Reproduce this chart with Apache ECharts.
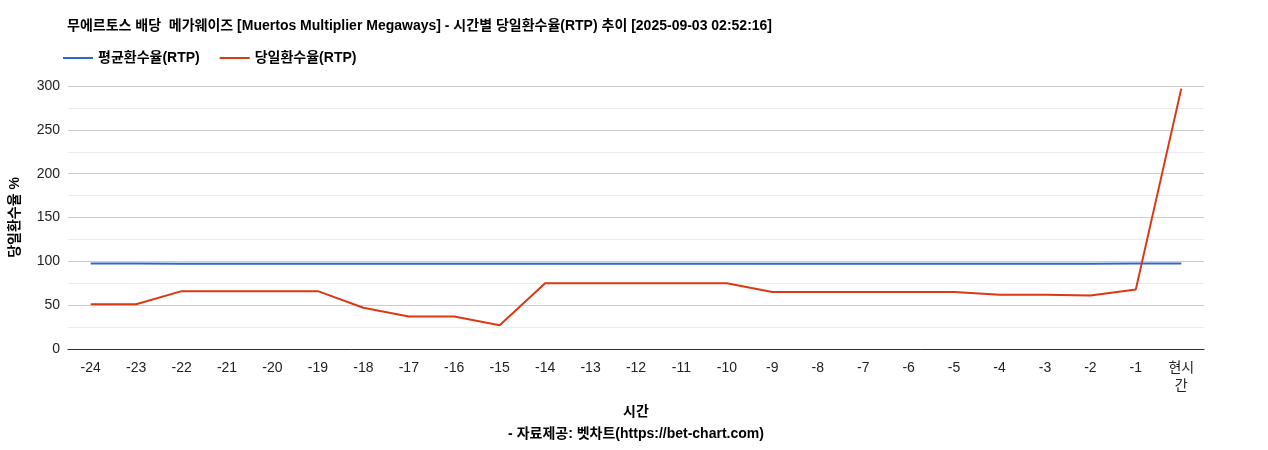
<!DOCTYPE html>
<html><head><meta charset="utf-8">
<script src="https://cdn.jsdelivr.net/npm/echarts@6/dist/echarts.min.js"></script>
<style>html,body{margin:0;padding:0;background:#fff}#c{width:1268px;height:450px}</style>
</head><body><div id="c"></div>
<script>
const categories=['-24','-23','-22','-21','-20','-19','-18','-17','-16','-15','-14','-13','-12','-11','-10','-9','-8','-7','-6','-5','-4','-3','-2','-1','현시\n간'];
const avgRTP=[97.5,97.5,97.2,97.2,97.2,97.2,97.2,97.2,97.2,97.2,97.2,97.2,97.2,97.2,97.2,97.2,97.2,97.2,97.2,97.2,97.2,97.2,97.2,97.4,97.4];
const dayRTP=[51,51,66,66,66,66,47,37,37,27,75,75,75,75,75,65,65,65,65,65,62,62,61,68,297];
const yTicks=[0,50,100,150,200,250,300];
const F='"Liberation Sans", Arial, "Noto Sans CJK KR", sans-serif';
const chart=echarts.init(document.getElementById('c'));
chart.setOption({
 textStyle:{fontFamily:F},
 title:{text:'무에르토스 배당  메가웨이즈 [Muertos Multiplier Megaways] - 시간별 당일환수율(RTP) 추이 [2025-09-03 02:52:16]',left:62,top:14,textStyle:{fontSize:14,fontWeight:'bold',color:'#000',fontFamily:F}},
 legend:{left:58,top:46,itemWidth:30,itemHeight:2,itemGap:20,icon:'rect',textStyle:{fontSize:14,fontWeight:'bold',color:'#000',fontFamily:F},data:['평균환수율(RTP)','당일환수율(RTP)']},
 grid:{left:66,right:64,top:86,bottom:87},
 xAxis:{type:'category',data:categories,boundaryGap:true,name:'시간\n- 자료제공: 벳차트(https://bet-chart.com)',nameLocation:'middle',nameGap:52,nameTextStyle:{fontSize:14,fontWeight:'bold',color:'#000',lineHeight:22,fontFamily:F},
  axisLine:{lineStyle:{color:'#333'}},axisTick:{show:false},axisLabel:{color:'#222',fontSize:14,interval:0,margin:10,lineHeight:18,fontFamily:F}},
 yAxis:{type:'value',min:yTicks[0],max:yTicks[yTicks.length-1],interval:50,name:'당일환수율 %',nameLocation:'middle',nameGap:46,nameTextStyle:{fontSize:14,fontWeight:'bold',color:'#000',fontFamily:F},
  axisLine:{show:false},axisTick:{show:false},axisLabel:{color:'#222',fontSize:14,fontFamily:F},
  splitLine:{lineStyle:{color:'#ccc'}},minorTick:{show:false,splitNumber:2},minorSplitLine:{show:true,lineStyle:{color:'#ebebeb'}}},
 series:[
  {name:'평균환수율(RTP)',type:'line',data:avgRTP,symbol:'none',lineStyle:{width:2,color:'#3366cc'},itemStyle:{color:'#3366cc'}},
  {name:'당일환수율(RTP)',type:'line',data:dayRTP,symbol:'none',lineStyle:{width:2,color:'#dc3912'},itemStyle:{color:'#dc3912'}}
 ]
});
</script></body></html>
